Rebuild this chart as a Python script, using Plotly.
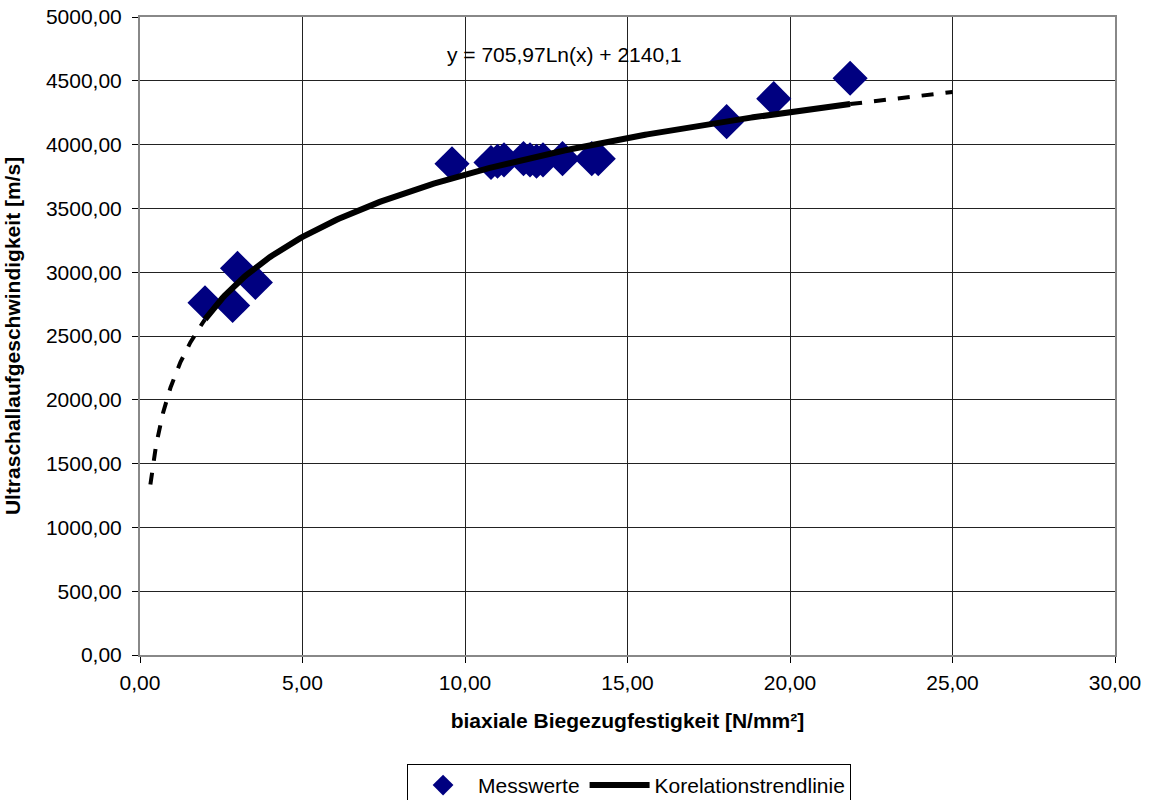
import numpy as np
import plotly.graph_objects as go

# Measured values
x_mess = [2.0, 2.85, 3.0, 3.55, 9.6, 10.8, 11.0, 11.2, 11.8, 12.0, 12.2, 12.4, 13.0, 13.9, 14.1, 18.05, 19.5, 21.85]
y_mess = [2760, 2740, 3030, 2920, 3850, 3860, 3870, 3880, 3890, 3880, 3870, 3880, 3890, 3890, 3890, 4180, 4360, 4520]

# Trendline parameters y = a*ln(x) + b
coef_a = 705.97
coef_b = 2140.1
trend_solid_range = [2.0, 21.85]
trend_back_range = [0.32, 2.0]
trend_fwd_range = [21.85, 25.0]

xs = np.linspace(trend_solid_range[0], trend_solid_range[1], 300)
xb = np.linspace(trend_back_range[0], trend_back_range[1], 150)
xf = np.linspace(trend_fwd_range[0], trend_fwd_range[1], 50)
f = lambda x: coef_a * np.log(x) + coef_b

fig = go.Figure()
fig.add_trace(go.Scatter(x=xb, y=f(xb), mode="lines", line=dict(color="black", width=4, dash="dash"),
                         showlegend=False, hoverinfo="skip"))
fig.add_trace(go.Scatter(x=xf, y=f(xf), mode="lines", line=dict(color="black", width=4, dash="dash"),
                         showlegend=False, hoverinfo="skip"))
fig.add_trace(go.Scatter(x=x_mess, y=y_mess, mode="markers", name="Messwerte",
                         marker=dict(symbol="diamond", size=27, color="#000080")))
fig.add_trace(go.Scatter(x=xs, y=f(xs), mode="lines", name="Korelationstrendlinie",
                         line=dict(color="black", width=6)))

fam = "Liberation Sans, Arial, sans-serif"
fs = 21
fig.update_layout(
    width=1149, height=830,
    margin=dict(l=140, r=34, t=17, b=175),
    paper_bgcolor="white", plot_bgcolor="white",
    separators=", ",
    font=dict(family=fam, size=fs, color="black"),
    xaxis=dict(range=[0, 30], dtick=5, tickformat=".2f", showgrid=True, gridcolor="#222", gridwidth=1,
               ticks="outside", ticklen=6, tickcolor="black", zeroline=False, automargin=False,
               tickfont=dict(size=fs), ticklabelstandoff=2, ticklabeloverflow="allow",
               showline=True, linecolor="#888", linewidth=2, mirror=True,
               title=dict(text="<b>biaxiale Biegezugfestigkeit [N/mm²]</b>", font=dict(size=fs), standoff=20)),
    yaxis=dict(range=[0, 5000], dtick=500, tickformat=".2f", showgrid=True, gridcolor="#222", gridwidth=1,
               ticks="outside", ticklen=6, tickcolor="black", zeroline=False, automargin=False,
               tickfont=dict(size=fs), ticklabelstandoff=6, ticklabeloverflow="allow",
               showline=True, linecolor="#888", linewidth=2, mirror=True,
               title=dict(text="<b>Ultraschallaufgeschwindigkeit [m/s]</b>", font=dict(size=fs), standoff=20)),
    legend=dict(orientation="h", x=0.5016, xanchor="center", y=-0.1708, yanchor="top",
                bordercolor="black", borderwidth=1, font=dict(size=fs), itemwidth=60),
    annotations=[dict(text="y = 705,97Ln(x) + 2140,1", x=13.05, y=4710, xref="x", yref="y",
                      showarrow=False, font=dict(size=fs))],
)
fig.write_html("out.html", config={"displayModeBar": False},
               post_script="document.body.style.margin='0';")
